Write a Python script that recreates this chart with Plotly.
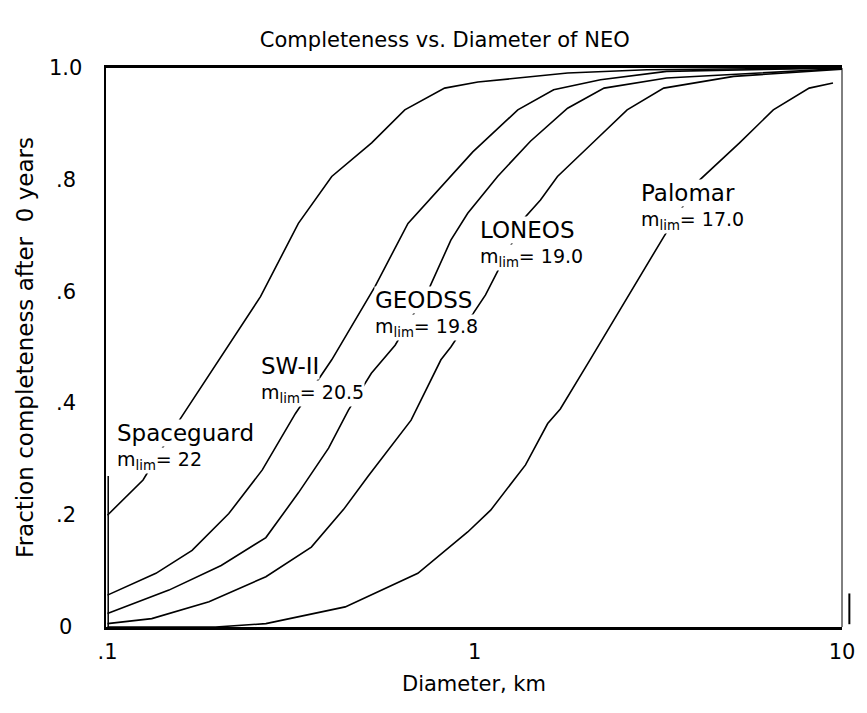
import plotly.graph_objects as go

# Diameter (km) and fraction completeness for each survey
sg_d = [0.1, 0.125, 0.157, 0.201, 0.261, 0.331, 0.408, 0.524, 0.645, 0.828, 1.02, 1.31, 1.79, 2.94, 10.0]
sg_f = [0.20, 0.263, 0.37, 0.478, 0.591, 0.722, 0.806, 0.866, 0.925, 0.964, 0.975, 0.982, 0.991, 0.997, 1.0]

sw_d = [0.1, 0.1355, 0.170, 0.214, 0.264, 0.325, 0.408, 0.535, 0.658, 0.794, 0.988, 1.31, 1.64, 2.20, 3.33, 10.0]
sw_f = [0.057, 0.096, 0.137, 0.203, 0.281, 0.382, 0.478, 0.609, 0.722, 0.782, 0.85, 0.925, 0.961, 0.979, 0.994, 1.0]

ge_d = [0.1, 0.147, 0.204, 0.270, 0.331, 0.40, 0.453, 0.523, 0.607, 0.755, 0.861, 0.957, 1.154, 1.418, 1.79, 2.25, 3.33, 10.0]
ge_f = [0.024, 0.066, 0.11, 0.16, 0.24, 0.32, 0.388, 0.454, 0.504, 0.609, 0.692, 0.74, 0.806, 0.869, 0.928, 0.964, 0.982, 0.999]

lo_d = [0.1, 0.132, 0.189, 0.270, 0.359, 0.439, 0.513, 0.671, 0.809, 0.861, 1.07, 1.14, 1.375, 1.51, 1.68, 2.11, 2.60, 3.27, 5.07, 10.0]
lo_f = [0.006, 0.015, 0.045, 0.09, 0.143, 0.21, 0.27, 0.37, 0.478, 0.501, 0.594, 0.63, 0.734, 0.764, 0.806, 0.868, 0.925, 0.964, 0.985, 0.998]

pa_d = [0.1, 0.197, 0.270, 0.444, 0.70, 0.957, 1.105, 1.375, 1.58, 1.71, 2.06, 3.27, 4.10, 5.26, 6.50, 8.14, 9.45]
pa_f = [0.0, 0.0, 0.006, 0.036, 0.096, 0.17, 0.209, 0.29, 0.364, 0.39, 0.478, 0.698, 0.80, 0.866, 0.925, 0.964, 0.973]

series = [(sg_d, sg_f), (sw_d, sw_f), (ge_d, ge_f), (lo_d, lo_f), (pa_d, pa_f)]

# Labels: survey name and limiting magnitude
label_names = ["Spaceguard", "SW-II", "GEODSS", "LONEOS", "Palomar"]
label_mlim = ["22", "20.5", "19.8", "19.0", "17.0"]
# label placement in paper coordinates (left edge, boundary between the two lines)
label_x = [0.0135, 0.2095, 0.3635, 0.507, 0.7257]
label_yb = [0.322, 0.442, 0.560, 0.685, 0.751]

y_tickvals = [0, 0.2, 0.4, 0.6, 0.8, 1.0]
y_ticktext = ["0", ".2", ".4", ".6", ".8", "1.0"]
x_tickvals = [0.1, 1, 10]
x_ticktext = [".1", "1", "10"]

FONT = "DejaVu Sans, Liberation Sans, sans-serif"

fig = go.Figure()
for d, f in series:
    fig.add_trace(go.Scatter(x=d, y=f, mode="lines", line=dict(color="black", width=1.6),
                             showlegend=False, hoverinfo="skip"))

for name, m, lx, yb in zip(label_names, label_mlim, label_x, label_yb):
    fig.add_annotation(xref="paper", yref="paper", x=lx, y=yb, xanchor="left", yanchor="top",
                       text="m<sub>lim</sub>= " + m, showarrow=False, bgcolor="white", borderpad=0,
                       font=dict(family=FONT, size=19, color="black"))
    fig.add_annotation(xref="paper", yref="paper", x=lx, y=yb, xanchor="left", yanchor="bottom",
                       text=name, showarrow=False, bgcolor="white", borderpad=0,
                       font=dict(family=FONT, size=23, color="black"))

# y tick labels, centred to the left of the axis like the original
for v, t in zip(y_tickvals, y_ticktext):
    fig.add_annotation(xref="paper", yref="y", x=-0.055, y=v, xanchor="center", yanchor="middle",
                       text=t, showarrow=False, font=dict(family=FONT, size=21, color="black"))

fig.update_layout(
    width=867, height=713,
    margin=dict(l=106, r=21, t=68, b=86),
    paper_bgcolor="white", plot_bgcolor="white",
    title=dict(text="Completeness vs. Diameter of NEO", x=0.513, xanchor="center",
               y=0.945, yanchor="middle", font=dict(family=FONT, size=21, color="black")),
    xaxis=dict(type="log", range=[-1.004, 1.0], tickvals=x_tickvals, ticktext=x_ticktext,
               showgrid=False, zeroline=False, showline=True, linecolor="black", linewidth=3,
               mirror=True, ticks="", ticklabelstandoff=4,
               tickfont=dict(family=FONT, size=21, color="black"),
               title=dict(text="Diameter, km", standoff=14,
                          font=dict(family=FONT, size=21, color="black"))),
    yaxis=dict(range=[0, 1.0], tickvals=y_tickvals, showticklabels=False,
               showgrid=False, zeroline=False, showline=True, linecolor="black", linewidth=2,
               ticks="",
               title=dict(text="Fraction completeness after  0 years", standoff=64,
                          font=dict(family=FONT, size=23, color="black"))),
)

# thin right border and small scan marks
fig.add_shape(type="line", xref="paper", yref="paper", x0=1.0, x1=1.0, y0=0, y1=1,
              line=dict(color="black", width=1))
fig.add_shape(type="line", xref="paper", yref="paper", x0=0.003, x1=0.003, y0=0, y1=0.27,
              line=dict(color="black", width=1.5))
fig.add_shape(type="line", xref="paper", yref="paper", x0=1.01, x1=1.01, y0=0.005, y1=0.06,
              line=dict(color="black", width=2))

fig.write_html("out.html")
